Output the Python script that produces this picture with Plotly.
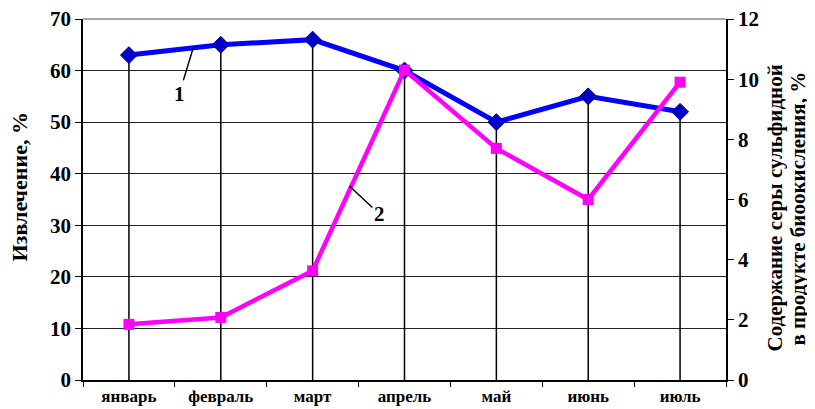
import plotly.graph_objects as go

months = ["январь", "февраль", "март", "апрель", "май", "июнь", "июль"]
extraction = [63, 65, 66, 60, 50, 55, 52]
sulfur = [1.85, 2.08, 3.63, 10.3, 7.7, 6.0, 9.9]

FONT = "Liberation Serif, Times New Roman, serif"

fig = go.Figure()

# drop lines from the blue points down to the axis
fig.add_trace(go.Scatter(
    x=months, y=extraction, mode="markers",
    marker=dict(size=1, color="rgba(0,0,0,0)"),
    error_y=dict(type="data", symmetric=False, array=[0] * len(extraction),
                 arrayminus=extraction, color="black", thickness=1.5, width=0),
    hoverinfo="skip", showlegend=False,
))

fig.add_trace(go.Scatter(
    x=months, y=sulfur, yaxis="y2", mode="lines+markers",
    line=dict(color="#FF00FF", width=4.5),
    marker=dict(symbol="square", size=11, color="#FF00FF"),
    showlegend=False,
))

fig.add_trace(go.Scatter(
    x=months, y=extraction, mode="lines+markers",
    line=dict(color="#0000FF", width=5),
    marker=dict(symbol="diamond", size=13, color="#0000CC",
                line=dict(color="#000080", width=1)),
    showlegend=False,
))

fig.update_layout(
    width=807, height=401,
    margin=dict(l=75, r=89, t=11, b=29),
    paper_bgcolor="white", plot_bgcolor="white",
    font=dict(family=FONT, size=17, color="black"),
    xaxis=dict(
        type="category", showgrid=False, tickson="boundaries",
        ticks="outside", ticklen=5, tickcolor="black", automargin=False,
        showline=True, linecolor="black", linewidth=1.5, ticklabeloverflow="allow",
        tickfont=dict(family=FONT, size=17, color="black", weight="bold"),
        range=[-0.5, 6.5],
    ),
    yaxis=dict(
        range=[0, 70], dtick=10, showgrid=True, gridcolor="#222222", gridwidth=1,
        ticks="outside", ticklen=6, tickcolor="black", automargin=False,
        showline=True, linecolor="black", linewidth=1.5, zeroline=False,
        ticklabeloverflow="allow",
        tickfont=dict(family=FONT, size=21, color="black", weight="bold"),
    ),
    yaxis2=dict(
        range=[0, 12], dtick=2, overlaying="y", side="right", showgrid=False,
        ticks="outside", ticklen=6, tickcolor="black", automargin=False,
        showline=True, linecolor="black", linewidth=1.5, zeroline=False,
        ticklabeloverflow="allow",
        tickfont=dict(family=FONT, size=21, color="black", weight="bold"),
    ),
    shapes=[dict(type="line", xref="paper", yref="paper", x0=0, x1=1, y0=1, y1=1,
                 line=dict(color="#888888", width=1.5))],
    annotations=[
        dict(x=0.7, y=64.4, xref="x", yref="y", text="<b>1</b>", showarrow=True,
             arrowhead=0, arrowwidth=1.5, arrowcolor="black", ax=-14, ay=46,
             font=dict(family=FONT, size=21, color="black")),
        dict(x=2.4, y=6.45, xref="x", yref="y2", text="<b>2</b>", showarrow=True,
             arrowhead=0, arrowwidth=1.5, arrowcolor="black", ax=30, ay=28,
             font=dict(family=FONT, size=21, color="black")),
        dict(x=0, y=0.5, xref="paper", yref="paper", xanchor="center", yanchor="middle",
             xshift=-64, yshift=12, showarrow=False, textangle=-90,
             text="<b>Извлечение, %</b>",
             font=dict(family=FONT, size=22, color="black")),
        dict(x=1, y=0.5, xref="paper", yref="paper", xanchor="center", yanchor="middle",
             xshift=48, yshift=-9, showarrow=False, textangle=-90,
             text="<b>Содержание серы сульфидной</b>",
             font=dict(family=FONT, size=21, color="black")),
        dict(x=1, y=0.5, xref="paper", yref="paper", xanchor="center", yanchor="middle",
             xshift=71, yshift=-9, showarrow=False, textangle=-90,
             text="<b>в продукте биоокисления, %</b>",
             font=dict(family=FONT, size=21, color="black")),
    ],
)

fig.write_html("out.html")
